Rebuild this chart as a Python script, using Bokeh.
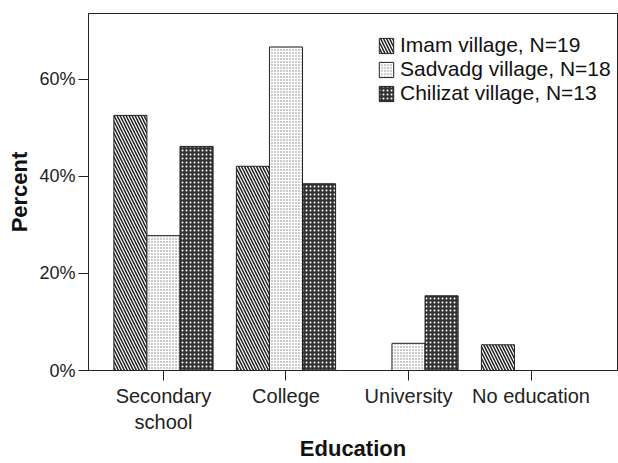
from bokeh.plotting import figure
from bokeh.models import ColumnDataSource, FixedTicker, Legend, LegendItem, Range1d
from bokeh.embed import file_html
from bokeh.resources import INLINE

categories = ["Secondary\nschool", "College", "University", "No education"]
series_names = ["Imam village, N=19", "Sadvadg village, N=18", "Chilizat village, N=13"]
imam = [52.6, 42.1, 0.0, 5.3]
sadvadg = [27.8, 66.7, 5.6, 0.0]
chilizat = [46.2, 38.5, 15.4, 0.0]
y_ticks = [0, 20, 40, 60]

FONT = "Liberation Sans"

p = figure(width=618, height=463, output_backend="svg", toolbar_location=None,
           x_range=Range1d(0.388, 4.706), y_range=Range1d(0, 73.6),
           min_border_left=88, min_border_top=13, min_border_right=1, min_border_bottom=93)

xs = list(range(1, len(categories) + 1))
bw = 0.27
styles = [
    dict(fill_color="white", hatch_pattern="left_diagonal_line", hatch_color="#222222",
         hatch_scale=6, hatch_weight=1.5),
    dict(fill_color="white", hatch_pattern="dot", hatch_color="#808080",
         hatch_scale=3, hatch_weight=1.0),
    dict(fill_color="#333333", hatch_pattern="dot", hatch_color="white",
         hatch_scale=4, hatch_weight=2.2),
]
items = []
for i, (vals, st) in enumerate(zip([imam, sadvadg, chilizat], styles)):
    src = ColumnDataSource(dict(x=[x + (i - 1) * bw for x in xs], top=vals))
    r = p.vbar(x="x", top="top", width=bw, source=src, line_color="#222222",
               line_width=1, **st)
    items.append(LegendItem(label=series_names[i], renderers=[r]))

legend = Legend(items=items, location=(289, 265), border_line_color=None,
                background_fill_alpha=0, label_text_font=FONT,
                label_text_font_size="21px", label_text_color="#111111",
                glyph_width=18, glyph_height=19, label_standoff=5, spacing=-1,
                padding=0, margin=0, label_height=22)
p.add_layout(legend)

p.xgrid.visible = False
p.ygrid.visible = False
p.outline_line_color = "#222222"
p.background_fill_color = "white"
p.border_fill_color = "white"

p.xaxis.ticker = FixedTicker(ticks=xs)
p.xaxis.major_label_overrides = {x: c for x, c in zip(xs, categories)}
p.yaxis.ticker = FixedTicker(ticks=y_ticks)
p.yaxis.major_label_overrides = {t: f"{t}%" for t in y_ticks}

for ax in (p.xaxis[0], p.yaxis[0]):
    ax.axis_line_color = "#222222"
    ax.major_tick_line_color = "#222222"
    ax.major_tick_out = 10
    ax.major_tick_in = 0
    ax.minor_tick_line_color = None
    ax.major_label_text_font = FONT
    ax.major_label_text_color = "#222222"
    ax.axis_label_text_font = FONT
    ax.axis_label_text_font_size = "22px"
    ax.axis_label_text_font_style = "bold"
    ax.axis_label_text_color = "#111111"

p.xaxis.major_label_text_font_size = "20px"
p.yaxis.major_label_text_font_size = "18px"
p.xaxis.axis_label = "Education"
p.yaxis.axis_label = "Percent"
p.xaxis.major_label_standoff = 4
p.yaxis.major_label_standoff = 3
p.xaxis.axis_label_standoff = 0
p.yaxis.axis_label_standoff = 4

open("out.html", "w").write(file_html(p, INLINE))
